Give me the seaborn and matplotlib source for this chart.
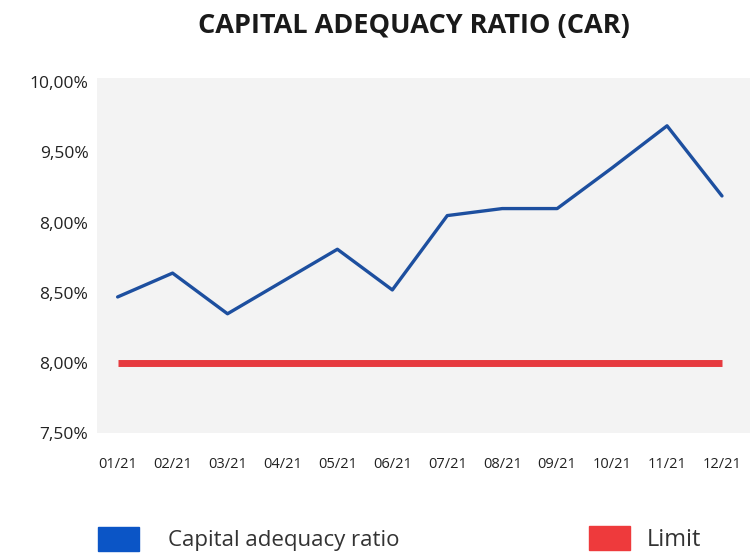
import matplotlib
matplotlib.use("Agg")
import matplotlib.pyplot as plt
import matplotlib.patches as mpatches
import seaborn as sns
import pandas as pd

months = ["01/21", "02/21", "03/21", "04/21", "05/21", "06/21",
          "07/21", "08/21", "09/21", "10/21", "11/21", "12/21"]
car = [8.47, 8.64, 8.35, 8.58, 8.81, 8.52, 9.05, 9.10, 9.10, 9.39, 9.69, 9.19]
limit = [8.0, 8.0, 8.0, 8.0, 8.0, 8.0, 8.0, 8.0, 8.0, 8.0, 8.0, 8.0]
ytick_values = [7.5, 8.0, 8.5, 9.0, 9.5, 10.0]
ytick_labels = ["7,50%", "8,00%", "8,50%", "8,00%", "9,50%", "10,00%"]
title = "CAPITAL ADEQUACY RATIO (CAR)"
legend_labels = ["Capital adequacy ratio", "Limit"]

blue = "#1d4f9f"
red = "#e63a3f"
legend_blue = "#0b55c6"
legend_red = "#ee3a3c"

sns.set_theme(style="white")
plt.rcParams["font.family"] = ["Open Sans", "DejaVu Sans"]

df = pd.DataFrame({"month": months, "car": car, "limit": limit})

fig = plt.figure(figsize=(7.5, 5.58), dpi=100)
ax = fig.add_axes([0.129, 0.224, 0.871, 0.636])
ax.set_facecolor("#f3f3f3")

sns.lineplot(data=df, x="month", y="limit", ax=ax, color=red, linewidth=5,
             sort=False, solid_capstyle="butt")
sns.lineplot(data=df, x="month", y="car", ax=ax, color=blue, linewidth=2.4,
             sort=False)

ax.set_xlim(-0.38, 11.51)
ax.set_ylim(7.5, 10.03)
ax.set_yticks(ytick_values)
ax.set_yticklabels(ytick_labels)
ax.set_xlabel("")
ax.set_ylabel("")
for s in ax.spines.values():
    s.set_visible(False)
ax.tick_params(axis="both", length=0, colors="#222222")
ax.tick_params(axis="y", pad=6, labelsize=12.5)
ax.tick_params(axis="x", pad=17, labelsize=10.5)
ax.grid(False)

fig.text(0.552, 0.953, title, ha="center", va="center", fontsize=19.5,
         fontweight="bold", color="#1a1a1a")

h1 = mpatches.Patch(color=legend_blue, label=legend_labels[0])
h2 = mpatches.Patch(color=legend_red, label=legend_labels[1])
leg1 = fig.legend(handles=[h1], loc="center left", bbox_to_anchor=(0.104, 0.034),
                  frameon=False, fontsize=16, handlelength=1.85, handleheight=1.26,
                  handletextpad=1.3, labelcolor="#333333")
leg2 = fig.legend(handles=[h2], loc="center left", bbox_to_anchor=(0.757, 0.034),
                  frameon=False, fontsize=17, handlelength=1.75, handleheight=1.2,
                  handletextpad=0.7, labelcolor="#333333")

fig.savefig("out.png", dpi=100, facecolor="white")
